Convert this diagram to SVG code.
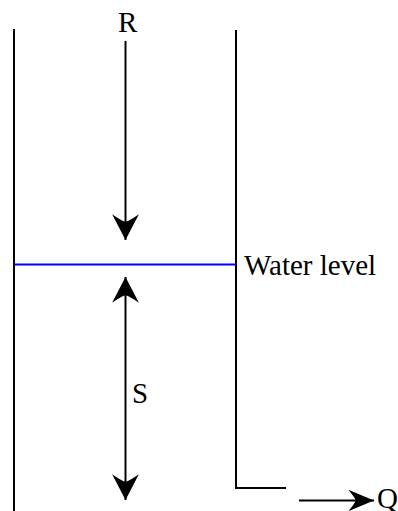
<svg xmlns="http://www.w3.org/2000/svg" width="398" height="511" viewBox="0 0 398 511">
<style>
.w{stroke:#000;stroke-width:2;fill:none}
.t{font-family:"Liberation Serif",serif;font-size:29px;fill:#000}
</style>
<defs>
<marker id="ah" markerUnits="userSpaceOnUse" markerWidth="30" markerHeight="30" viewBox="-26 -14 28 28" refX="0" refY="0" orient="auto-start-reverse">
<path d="M0,0 L-24,-12.5 Q-18,-4 -17,0 Q-18,4 -24,12.5 Z" fill="#000"/>
</marker>
<marker id="as" markerUnits="userSpaceOnUse" markerWidth="30" markerHeight="30" viewBox="-26 -14 28 28" refX="0" refY="0" orient="auto">
<path d="M0,0 L-24,-10 Q-18,-3 -17,0 Q-18,3 -24,10 Z" fill="#000"/>
</marker>
</defs>
<g id="tank">
<line class="w" x1="14" y1="29" x2="14" y2="511"/>
<polyline class="w" points="236,30 236,488 286,488"/>
</g>
<g id="water">
<line x1="14" y1="264.5" x2="236" y2="264.5" stroke="#0000ff" stroke-width="2"/>
<text class="t" x="244" y="275">Water level</text>
</g>
<g id="labels">
<text class="t" x="118" y="32">R</text>
<text class="t" x="132" y="403">S</text>
<text class="t" x="377" y="508">Q</text>
</g>
<g id="connectors">
<line class="w" x1="125.5" y1="41" x2="125.5" y2="240" marker-end="url(#ah)"/>
<line class="w" x1="125.5" y1="277" x2="125.5" y2="500" marker-start="url(#ah)" marker-end="url(#ah)"/>
<line class="w" x1="299" y1="500.5" x2="374" y2="500.5" marker-end="url(#as)"/>
</g>
</svg>
